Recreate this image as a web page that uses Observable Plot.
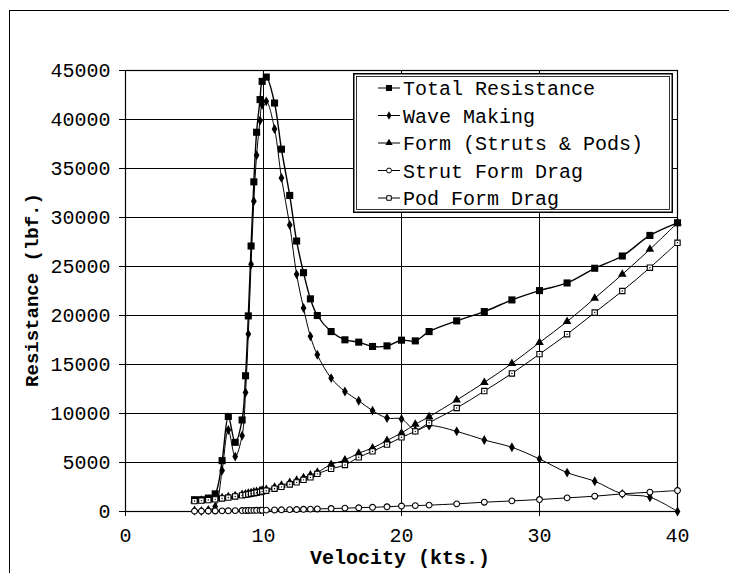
<!DOCTYPE html>
<html>
<head>
<meta charset="utf-8">
<script src="https://cdn.jsdelivr.net/npm/d3@7"></script>
<script src="https://cdn.jsdelivr.net/npm/@observablehq/plot@0.6"></script>
<style>
  html, body { margin: 0; padding: 0; background: #fff; }
  #wrap { position: relative; width: 729px; height: 573px; overflow: hidden; }
  #border { position: absolute; left: 9px; top: 10px; width: 740px; height: 600px;
            border-top: 1.5px solid #000; border-left: 1.5px solid #000; }
  #legend { position: absolute; left: 353px; top: 73px; }
</style>
</head>
<body>
<div id="wrap"><div id="border"></div></div>
<script>
// ---- data ----
const velocity = [5, 5.5, 6, 6.5, 7, 7.45, 7.95, 8.45, 8.7, 8.9, 9.1, 9.3, 9.5, 9.75, 9.9, 10.2, 10.8, 11.3, 11.9, 12.4, 12.9, 13.4, 13.9, 14.9, 15.9, 16.9, 17.9, 18.95, 20, 21, 22, 24, 26, 28, 30, 32, 34, 36, 38, 40];
const totalResistance = [1200, 1200, 1370, 1800, 5190, 9700, 7060, 9340, 13850, 19960, 27090, 33640, 38700, 42030, 43890, 44330, 41680, 36970, 32250, 27600, 24370, 21700, 20000, 18360, 17520, 17280, 16840, 16900, 17480, 17410, 18360, 19450, 20400, 21590, 22540, 23320, 24820, 26070, 28170, 29460];
const waveMaking = [100, 50, 150, 500, 4180, 8320, 5600, 7740, 12150, 18100, 25220, 31670, 36350, 39890, 41510, 41850, 39030, 34040, 29230, 24200, 20770, 17870, 15990, 13610, 12250, 11300, 10290, 9540, 9440, 8300, 8760, 8180, 7300, 6550, 5360, 3970, 3090, 1800, 1460, 0];
const formStrutsPods = [1100, 1150, 1220, 1300, 1400, 1500, 1620, 1740, 1800, 1860, 1920, 1980, 2040, 2120, 2170, 2260, 2480, 2680, 2950, 3180, 3450, 3720, 4000, 4800, 5250, 5950, 6480, 7250, 8010, 8900, 9670, 11370, 13170, 15100, 17240, 19380, 21760, 24200, 26750, 29460];
const strutFormDrag = [35, 40, 50, 57, 66, 74, 85, 96, 101, 106, 111, 116, 121, 127, 131, 139, 156, 171, 190, 206, 223, 240, 259, 300, 340, 385, 430, 480, 560, 600, 650, 780, 950, 1080, 1220, 1390, 1560, 1800, 1970, 2140];
const podFormDrag = [1065, 1110, 1170, 1240, 1330, 1425, 1535, 1645, 1700, 1755, 1810, 1865, 1920, 1995, 2040, 2120, 2325, 2510, 2760, 2975, 3230, 3480, 3840, 4350, 4750, 5530, 6140, 6820, 7570, 8180, 9050, 10560, 12290, 14090, 16060, 18090, 20300, 22500, 24880, 27420];

const seriesNames = ["Total Resistance", "Wave Making", "Form (Struts & Pods)", "Strut Form Drag", "Pod Form Drag"];
const xTicks = [0, 10, 20, 30, 40];
const yTicks = [0, 5000, 10000, 15000, 20000, 25000, 30000, 35000, 40000, 45000];
const xTitle = "Velocity (kts.)";
const yTitle = "Resistance (lbf.)";

// ---- styles per series ----
const seriesValues = [totalResistance, waveMaking, formStrutsPods, strutFormDrag, podFormDrag];
const styles = [
  {symbol: "square",   r: 4,   fill: "#000", stroke: "none", lw: 1.4},
  {symbol: "diamond",  r: 3,   fill: "#000", stroke: "none", lw: 1},
  {symbol: "triangle", r: 3.2, fill: "#000", stroke: "none", lw: 1},
  {symbol: "circle",   r: 2.9, fill: "#fff", stroke: "#000", lw: 1},
  {symbol: "square",   r: 3.0, fill: "#fff", stroke: "#000", lw: 1}
];

const FONT = "'Liberation Mono', 'Courier New', monospace";

const lineMarks = [];
const dotMarks = [];
seriesNames.forEach((name, k) => {
  const rows = velocity.map((v, i) => ({v, r: seriesValues[k][i], s: name}));
  const st = styles[k];
  lineMarks.push(Plot.line(rows, {x: "v", y: "r", stroke: "#000", strokeWidth: st.lw, curve: "catmull-rom"}));
  dotMarks.push(Plot.dot(rows, {x: "v", y: "r", symbol: () => st.symbol, r: st.r, fill: st.fill,
    stroke: st.stroke, strokeWidth: 1.1}));
  if (k === 4) dotMarks.push(Plot.dot(rows, {x: "v", y: "r", r: 0.7, fill: "#000"}));
});

const chart = Plot.plot({
  width: 729,
  height: 573,
  marginLeft: 125,
  marginRight: 52,
  marginTop: 70,
  marginBottom: 62,
  style: {fontFamily: FONT, fontSize: "20px", background: "transparent", color: "#000"},
  x: {domain: [0, 40]},
  y: {domain: [0, 45000]},
  marks: [
    Plot.gridY(yTicks, {stroke: "#000", strokeOpacity: 1, strokeWidth: 1}),
    Plot.gridX(xTicks, {stroke: "#000", strokeOpacity: 1, strokeWidth: 1}),
    Plot.frame({stroke: "#000", strokeWidth: 1.2}),
    Plot.axisY(yTicks, {tickSize: 6, tickPadding: 9, tickFormat: d3.format("d"), label: null, fontSize: 20}),
    Plot.axisX(xTicks, {tickSize: 5, tickPadding: 11, tickFormat: d3.format("d"), label: null, fontSize: 20}),
    ...lineMarks,
    ...dotMarks
  ]
});
chart.style.position = "absolute";
chart.style.left = "0px";
chart.style.top = "0px";
document.getElementById("wrap").appendChild(chart);

// axis titles
const svg = d3.select(chart);
svg.append("text").text(xTitle)
  .attr("x", 400).attr("y", 564)
  .attr("text-anchor", "middle").attr("font-weight", "bold")
  .attr("font-family", FONT).attr("font-size", 20).attr("fill", "#000");
svg.append("text").text(yTitle)
  .attr("transform", "translate(38,290) rotate(-90)")
  .attr("text-anchor", "middle").attr("font-weight", "bold")
  .attr("font-family", FONT).attr("font-size", 19).attr("fill", "#000");

// legend
const lw = 320, lh = 140;
const leg = d3.select("#wrap").append("svg")
  .attr("id", "legend").attr("width", lw).attr("height", lh)
  .style("position", "absolute").style("left", "353px").style("top", "73px");
leg.append("rect").attr("x", 0.75).attr("y", 0.75).attr("width", lw - 1.5).attr("height", lh - 1.5)
  .attr("fill", "#fff").attr("stroke", "#000").attr("stroke-width", 1.5);
leg.append("rect").attr("x", 3.5).attr("y", 3.5).attr("width", lw - 7).attr("height", lh - 7)
  .attr("fill", "none").attr("stroke", "#000").attr("stroke-width", 0.8);
const symMap = {square: d3.symbolSquare, diamond: d3.symbolDiamond, triangle: d3.symbolTriangle, circle: d3.symbolCircle};
seriesNames.forEach((name, k) => {
  const cy = 15 + k * 27.5;
  const st = styles[k];
  leg.append("line").attr("x1", 25).attr("x2", 47).attr("y1", cy).attr("y2", cy)
    .attr("stroke", "#000").attr("stroke-width", 1);
  leg.append("path")
    .attr("d", d3.symbol(symMap[st.symbol], Math.PI * (st.r * 0.85) ** 2)())
    .attr("transform", `translate(36,${cy})`)
    .attr("fill", st.fill).attr("stroke", st.stroke === "none" ? null : st.stroke).attr("stroke-width", 1);
  leg.append("text").text(name).attr("x", 50).attr("y", cy).attr("dy", "0.35em")
    .attr("font-family", FONT).attr("font-size", 20).attr("fill", "#000");
});
</script>
</body>
</html>
